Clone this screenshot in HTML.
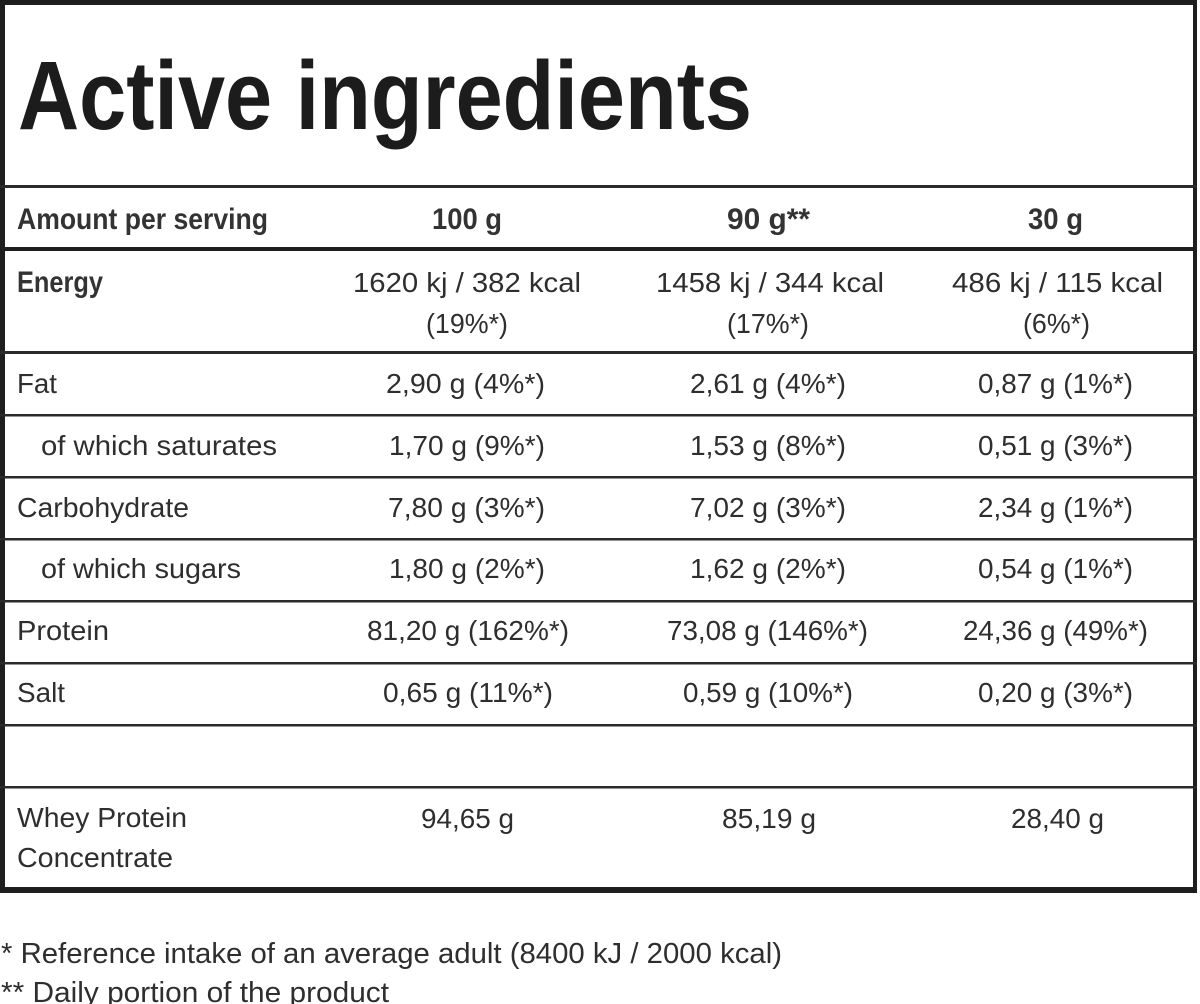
<!DOCTYPE html>
<html>
<head>
<meta charset="utf-8">
<style>
  html, body { margin: 0; padding: 0; background: #fff; }
  body { width: 1200px; height: 1004px; overflow: hidden; }
  svg { display: block; }
  text { font-family: "Liberation Sans", "DejaVu Sans", sans-serif; }
  .t { font-size: 97px; font-weight: bold; fill: #1c1c1c; }
  .b { font-size: 30px; font-weight: bold; fill: #333; }
  .r { font-size: 28px; fill: #2e2e2e; }
  .f { font-size: 29px; fill: #2e2e2e; }
</style>
</head>
<body>
<svg width="1200" height="1004" viewBox="0 0 1200 1004" xmlns="http://www.w3.org/2000/svg">
  <rect x="0" y="0" width="1200" height="1004" fill="#fff"/>

  <!-- outer border -->
  <rect x="0" y="0" width="1197" height="5" fill="#1e1e1e"/>
  <rect x="0" y="0" width="5" height="893" fill="#1e1e1e"/>
  <rect x="1193" y="0" width="4" height="893" fill="#1e1e1e"/>
  <rect x="0" y="887" width="1197" height="6" fill="#1e1e1e"/>

  <!-- horizontal rules -->
  <rect x="0" y="185" width="1197" height="3" fill="#2a2a2a"/>
  <rect x="0" y="247" width="1197" height="4" fill="#1e1e1e"/>
  <rect x="0" y="351" width="1197" height="3" fill="#2a2a2a"/>
  <rect x="0" y="414" width="1197" height="2.5" fill="#2a2a2a"/>
  <rect x="0" y="476" width="1197" height="2.5" fill="#2a2a2a"/>
  <rect x="0" y="538" width="1197" height="2.5" fill="#2a2a2a"/>
  <rect x="0" y="600" width="1197" height="2.5" fill="#2a2a2a"/>
  <rect x="0" y="662" width="1197" height="2.5" fill="#2a2a2a"/>
  <rect x="0" y="724" width="1197" height="2.5" fill="#2a2a2a"/>
  <rect x="0" y="786" width="1197" height="2.5" fill="#2a2a2a"/>

  <!-- title -->
  <text class="t" x="18" y="129" textLength="734" lengthAdjust="spacingAndGlyphs">Active ingredients</text>

  <!-- header row -->
  <text class="b" x="17" y="229" textLength="251" lengthAdjust="spacingAndGlyphs">Amount per serving</text>
  <text class="b" x="432" y="229" textLength="70" lengthAdjust="spacingAndGlyphs">100 g</text>
  <text class="b" x="727" y="229" textLength="83" lengthAdjust="spacingAndGlyphs">90 g**</text>
  <text class="b" x="1028" y="229" textLength="55" lengthAdjust="spacingAndGlyphs">30 g</text>

  <!-- Energy -->
  <text class="b" x="17" y="292" textLength="86" lengthAdjust="spacingAndGlyphs">Energy</text>
  <text class="r" x="353" y="292" textLength="228" lengthAdjust="spacingAndGlyphs">1620 kj / 382 kcal</text>
  <text class="r" x="426" y="333" textLength="82" lengthAdjust="spacingAndGlyphs">(19%*)</text>
  <text class="r" x="656" y="292" textLength="228" lengthAdjust="spacingAndGlyphs">1458 kj / 344 kcal</text>
  <text class="r" x="727" y="333" textLength="82" lengthAdjust="spacingAndGlyphs">(17%*)</text>
  <text class="r" x="952" y="292" textLength="211" lengthAdjust="spacingAndGlyphs">486 kj / 115 kcal</text>
  <text class="r" x="1023" y="333" textLength="67" lengthAdjust="spacingAndGlyphs">(6%*)</text>

  <!-- Fat -->
  <text class="r" x="17" y="393" textLength="40" lengthAdjust="spacingAndGlyphs">Fat</text>
  <text class="r" x="386" y="393" textLength="159" lengthAdjust="spacingAndGlyphs">2,90 g (4%*)</text>
  <text class="r" x="690" y="393" textLength="156" lengthAdjust="spacingAndGlyphs">2,61 g (4%*)</text>
  <text class="r" x="978" y="393" textLength="155" lengthAdjust="spacingAndGlyphs">0,87 g (1%*)</text>

  <!-- saturates -->
  <text class="r" x="41" y="455" textLength="236" lengthAdjust="spacingAndGlyphs">of which saturates</text>
  <text class="r" x="389" y="455" textLength="156" lengthAdjust="spacingAndGlyphs">1,70 g (9%*)</text>
  <text class="r" x="690" y="455" textLength="156" lengthAdjust="spacingAndGlyphs">1,53 g (8%*)</text>
  <text class="r" x="978" y="455" textLength="155" lengthAdjust="spacingAndGlyphs">0,51 g (3%*)</text>

  <!-- Carbohydrate -->
  <text class="r" x="17" y="517" textLength="172" lengthAdjust="spacingAndGlyphs">Carbohydrate</text>
  <text class="r" x="388" y="517" textLength="157" lengthAdjust="spacingAndGlyphs">7,80 g (3%*)</text>
  <text class="r" x="690" y="517" textLength="156" lengthAdjust="spacingAndGlyphs">7,02 g (3%*)</text>
  <text class="r" x="978" y="517" textLength="155" lengthAdjust="spacingAndGlyphs">2,34 g (1%*)</text>

  <!-- sugars -->
  <text class="r" x="41" y="578" textLength="200" lengthAdjust="spacingAndGlyphs">of which sugars</text>
  <text class="r" x="389" y="578" textLength="156" lengthAdjust="spacingAndGlyphs">1,80 g (2%*)</text>
  <text class="r" x="690" y="578" textLength="156" lengthAdjust="spacingAndGlyphs">1,62 g (2%*)</text>
  <text class="r" x="978" y="578" textLength="155" lengthAdjust="spacingAndGlyphs">0,54 g (1%*)</text>

  <!-- Protein -->
  <text class="r" x="17" y="640" textLength="92" lengthAdjust="spacingAndGlyphs">Protein</text>
  <text class="r" x="367" y="640" textLength="202" lengthAdjust="spacingAndGlyphs">81,20 g (162%*)</text>
  <text class="r" x="667" y="640" textLength="201" lengthAdjust="spacingAndGlyphs">73,08 g (146%*)</text>
  <text class="r" x="963" y="640" textLength="185" lengthAdjust="spacingAndGlyphs">24,36 g (49%*)</text>

  <!-- Salt -->
  <text class="r" x="17" y="702" textLength="48" lengthAdjust="spacingAndGlyphs">Salt</text>
  <text class="r" x="383" y="702" textLength="170" lengthAdjust="spacingAndGlyphs">0,65 g (11%*)</text>
  <text class="r" x="683" y="702" textLength="170" lengthAdjust="spacingAndGlyphs">0,59 g (10%*)</text>
  <text class="r" x="978" y="702" textLength="155" lengthAdjust="spacingAndGlyphs">0,20 g (3%*)</text>

  <!-- Whey -->
  <text class="r" x="17" y="827" textLength="170" lengthAdjust="spacingAndGlyphs">Whey Protein</text>
  <text class="r" x="17" y="867" textLength="156" lengthAdjust="spacingAndGlyphs">Concentrate</text>
  <text class="r" x="421" y="828" textLength="93" lengthAdjust="spacingAndGlyphs">94,65 g</text>
  <text class="r" x="722" y="828" textLength="94" lengthAdjust="spacingAndGlyphs">85,19 g</text>
  <text class="r" x="1011" y="828" textLength="93" lengthAdjust="spacingAndGlyphs">28,40 g</text>

  <!-- footnotes -->
  <text class="f" x="1" y="963" textLength="781" lengthAdjust="spacingAndGlyphs">* Reference intake of an average adult (8400 kJ / 2000 kcal)</text>
  <text class="f" x="1" y="1002" textLength="388" lengthAdjust="spacingAndGlyphs">** Daily portion of the product</text>
</svg>
</body>
</html>
